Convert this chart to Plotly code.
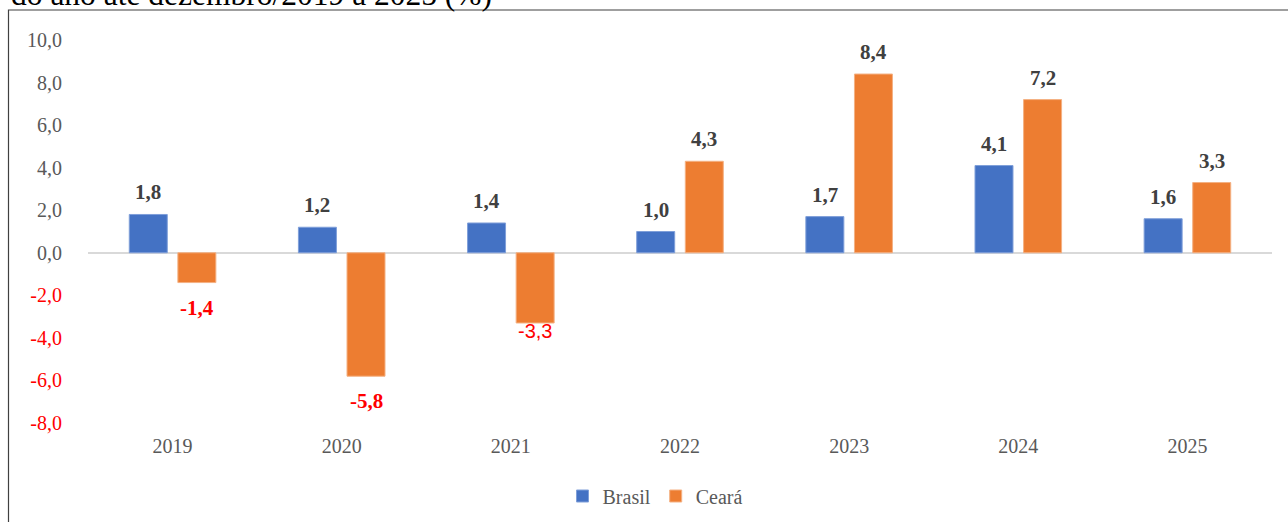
import plotly.graph_objects as go

years = ["2019", "2020", "2021", "2022", "2023", "2024", "2025"]
brasil = [1.8, 1.2, 1.4, 1.0, 1.7, 4.1, 1.6]
ceara = [-1.4, -5.8, -3.3, 4.3, 8.4, 7.2, 3.3]
y_ticks = [-8, -6, -4, -2, 0, 2, 4, 6, 8, 10]
title_text = "do ano até dezembro/2019 a 2025 (%)"

BLUE = "#4472C4"
ORANGE = "#ED7D31"
SERIF = "Liberation Serif, Times New Roman, serif"
SANS = "Liberation Sans, Arial, sans-serif"
W, H = 1288, 522
ML, MR, MT, MB = 88, 16, 40, 99
PW, PH = W - ML - MR, H - MT - MB


def fmt(v):
    return f"{v:.1f}".replace(".", ",")


def px_x(p):
    return (p - ML) / PW


def px_y(p):
    return (H - MB - p) / PH


fig = go.Figure()
fig.add_bar(x=years, y=brasil, name="Brasil", marker=dict(color=BLUE, line=dict(color="#7F9FD9", width=1)))
fig.add_bar(x=years, y=ceara, name="Ceará", marker=dict(color=ORANGE, line=dict(color="#F4B183", width=1)))

# special label styling
overrides = {("Ceará", "2021"): dict(yshift=-8, family=SANS, weight="normal")}

annotations = []
for name, vals, off in (("Brasil", brasil, -0.5), ("Ceará", ceara, 0.5)):
    for i, (yr, v) in enumerate(zip(years, vals)):
        o = overrides.get((name, yr), {})
        neg = v < 0
        annotations.append(dict(
            x=i, y=v, xref="x", yref="y", text=fmt(v), showarrow=False,
            xshift=off * 48.6, yanchor="middle",
            yshift=o.get("yshift", -25 if neg else 22),
            font=dict(family=o.get("family", SERIF), size=20 if "family" in o else 21,
                      color="#FF0000" if neg else "#404040",
                      weight=o.get("weight", "bold")),
        ))

annotations.append(dict(
    x=px_x(9), y=px_y(14), xref="paper", yref="paper", xanchor="left", yanchor="bottom",
    text=title_text, showarrow=False, font=dict(family=SERIF, size=31.5, color="#000000"),
))

fig.update_layout(
    width=W, height=H,
    margin=dict(l=ML, r=MR, t=MT, b=MB, pad=0, autoexpand=False),
    paper_bgcolor="white", plot_bgcolor="white",
    barmode="group", bargap=0.4255, bargroupgap=0.218,
    font=dict(family=SERIF, size=20, color="#595959"),
    xaxis=dict(type="category", showgrid=False, showline=False, ticks="",
               tickfont=dict(family=SERIF, size=20, color="#595959"), ticklabelstandoff=9),
    yaxis=dict(range=[-8, 10], tickvals=y_ticks,
               ticktext=[(f'<span style="color:#FF0000">{fmt(v)}</span>' if v < 0 else fmt(v)) for v in y_ticks],
               showgrid=False, zeroline=True, zerolinecolor="#D9D9D9", zerolinewidth=1.5,
               showline=False, ticks="", tickfont=dict(family=SERIF, size=20, color="#595959"),
               ticklabelstandoff=25),
    legend=dict(orientation="h", x=px_x(655), xanchor="center", y=px_y(496), yanchor="middle",
                font=dict(family=SERIF, size=20, color="#595959"), traceorder="normal", itemwidth=30),
    annotations=annotations,
    shapes=[dict(type="rect", xref="paper", yref="paper",
                 x0=px_x(8.5), x1=px_x(W + 20), y0=px_y(H + 20), y1=px_y(10),
                 line=dict(color="#404040", width=1.2), fillcolor="rgba(0,0,0,0)", layer="above")],
    showlegend=True,
)

fig.write_html("out.html", config={"displayModeBar": False},
               post_script="document.body.style.margin='0';")
